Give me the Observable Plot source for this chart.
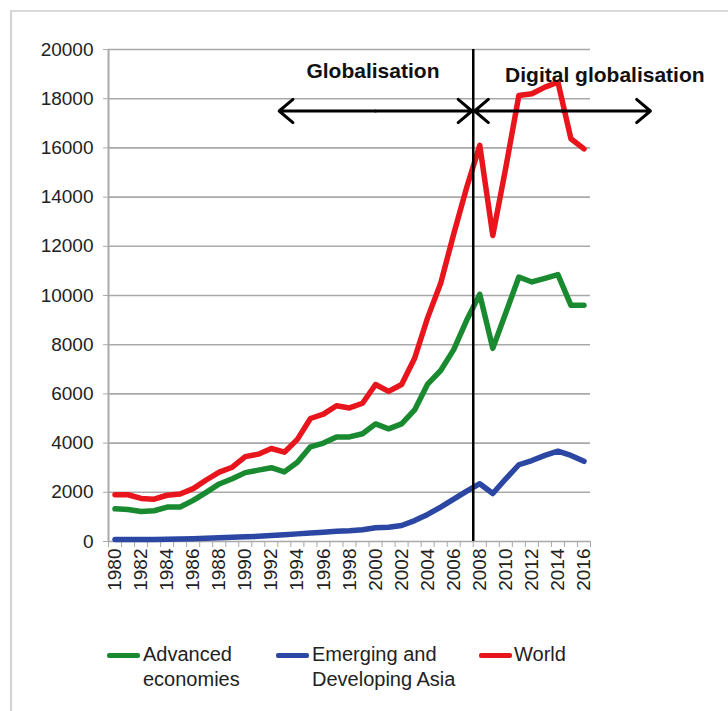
<!DOCTYPE html>
<html>
<head>
<meta charset="utf-8">
<script src="https://cdn.jsdelivr.net/npm/d3@7"></script>
<script src="https://cdn.jsdelivr.net/npm/@observablehq/plot@0.6"></script>
<style>
  html, body { margin: 0; padding: 0; background: #fff; }
  #wrap { position: relative; width: 728px; height: 711px; overflow: hidden; font-family: "Liberation Sans", Arial, sans-serif; }
  #frame { position: absolute; left: 10px; top: 10px; width: 730px; height: 720px; border-left: 2px solid #d2d2d2; border-top: 2px solid #d9d9d9; }
  #chart { position: absolute; left: 0; top: 0; }
  .leg { position: absolute; font-size: 20px; line-height: 25px; color: #222; }
  .sw { position: absolute; width: 33px; height: 5px; border-radius: 2px; }
</style>
</head>
<body>
<div id="wrap">
  <div id="frame"></div>
  <div id="chart"></div>
  <div id="legend"></div>
</div>
<script>
const years = [1980,1981,1982,1983,1984,1985,1986,1987,1988,1989,1990,1991,1992,1993,1994,1995,1996,1997,1998,1999,2000,2001,2002,2003,2004,2005,2006,2007,2008,2009,2010,2011,2012,2013,2014,2015,2016];
const advanced = [1330,1300,1220,1250,1400,1400,1670,2000,2340,2550,2800,2900,3000,2830,3220,3850,4000,4250,4250,4380,4780,4580,4780,5350,6400,6950,7800,9000,10050,7850,9300,10750,10550,10700,10850,9600,9600];
const asia = [80,80,80,80,90,100,110,130,150,170,190,210,240,270,310,350,380,420,440,480,560,580,650,850,1100,1400,1720,2050,2350,1950,2550,3120,3290,3500,3670,3500,3260];
const world = [1900,1900,1750,1720,1880,1930,2150,2500,2820,3020,3450,3550,3780,3630,4150,5000,5180,5520,5430,5620,6380,6100,6380,7450,9100,10500,12500,14400,16100,12440,15200,18130,18200,18470,18670,16370,15960];

const seriesNames = ["Advanced economies", "Emerging and Developing Asia", "World"];
const seriesLegendLines = [["Advanced", "economies"], ["Emerging and", "Developing Asia"], ["World"]];
const seriesColors = ["#1a8a30", "#2b47a3", "#e8151d"];

const yTicks = [0,2000,4000,6000,8000,10000,12000,14000,16000,18000,20000];
const xTickLabels = [1980,1982,1984,1986,1988,1990,1992,1994,1996,1998,2000,2002,2004,2006,2008,2010,2012,2014,2016];
const categoryEdges = [1979.5,1980.5,1981.5,1982.5,1983.5,1984.5,1985.5,1986.5,1987.5,1988.5,1989.5,1990.5,1991.5,1992.5,1993.5,1994.5,1995.5,1996.5,1997.5,1998.5,1999.5,2000.5,2001.5,2002.5,2003.5,2004.5,2005.5,2006.5,2007.5,2008.5,2009.5,2010.5,2011.5,2012.5,2013.5,2014.5,2015.5,2016.5];

const dividerYear = [2007.5];
const periodLabels = ["Globalisation", "Digital globalisation"];
const periodLabelX = [1999.8, 2017.6];
const periodLabelY = [19100, 18950];
const arrowMid = [2000, 2000, 2014.3, 2014.3];
const arrowEnd = [1992.6, 2007.4, 2007.6, 2021.1];
const arrowLevel = 17500;

const rows = [];
const allSeries = [advanced, asia, world];
allSeries.forEach((vals, s) => {
  years.forEach((yr, i) => rows.push({series: seriesNames[s], year: yr, value: vals[i]}));
});

const arrows = arrowMid.map((m, i) => ({x1: m, x2: arrowEnd[i], y: arrowLevel}));
const labels = periodLabels.map((t, i) => ({text: t, x: periodLabelX[i], y: periodLabelY[i]}));

const chart = Plot.plot({
  width: 728,
  height: 620,
  marginLeft: 108,
  marginRight: 138,
  marginTop: 49,
  marginBottom: 79,
  style: {fontFamily: "'Liberation Sans', Arial, sans-serif", fontSize: "19px", color: "#222", background: "transparent", overflow: "visible"},
  x: {type: "linear", domain: [1979.5, 2016.5]},
  y: {domain: [0, 20000]},
  color: {domain: seriesNames, range: seriesColors},
  marks: [
    Plot.ruleY(yTicks, {stroke: "#a9a9a9", strokeWidth: 1.6}),
    Plot.ruleX([1979.5], {y1: 0, y2: 20000, stroke: "#a9a9a9", strokeWidth: 2}),
    Plot.axisY(yTicks, {tickSize: 5, tickPadding: 10, stroke: "#a9a9a9", fill: "#222", label: null, tickFormat: d => String(d), fontSize: 19}),
    Plot.axisX(categoryEdges, {tickSize: 6, tickFormat: () => "", stroke: "#a9a9a9", label: null}),
    Plot.axisX(xTickLabels, {tickSize: 0, tickPadding: 7, tickRotate: -90, tickFormat: d => String(d), fill: "#222", label: null, fontSize: 19}),
    Plot.line(rows, {x: "year", y: "value", z: "series", stroke: "series", strokeWidth: 5.5, strokeLinejoin: "round", strokeLinecap: "round"}),
    Plot.ruleX(dividerYear, {y1: 0, y2: 20000, stroke: "#000", strokeWidth: 2.5}),
    Plot.arrow(arrows, {x1: "x1", y1: "y", x2: "x2", y2: "y", stroke: "#000", strokeWidth: 3, headLength: 9, headAngle: 80, inset: 0}),
    Plot.text(labels, {x: "x", y: "y", text: "text", fontWeight: "bold", fontSize: 21, fill: "#111"})
  ]
});
document.getElementById("chart").appendChild(chart);

// legend
const legendSwatchX = [107, 276, 479];
const legendTextX = [143, 312, 514];
const legend = document.getElementById("legend");
seriesNames.forEach((name, i) => {
  const sw = document.createElement("div");
  sw.className = "sw";
  sw.style.left = legendSwatchX[i] + "px";
  sw.style.top = "653px";
  sw.style.background = seriesColors[i];
  legend.appendChild(sw);
  const t = document.createElement("div");
  t.className = "leg";
  t.style.left = legendTextX[i] + "px";
  t.style.top = "642px";
  t.innerHTML = seriesLegendLines[i].join("<br>");
  legend.appendChild(t);
});
</script>
</body>
</html>
